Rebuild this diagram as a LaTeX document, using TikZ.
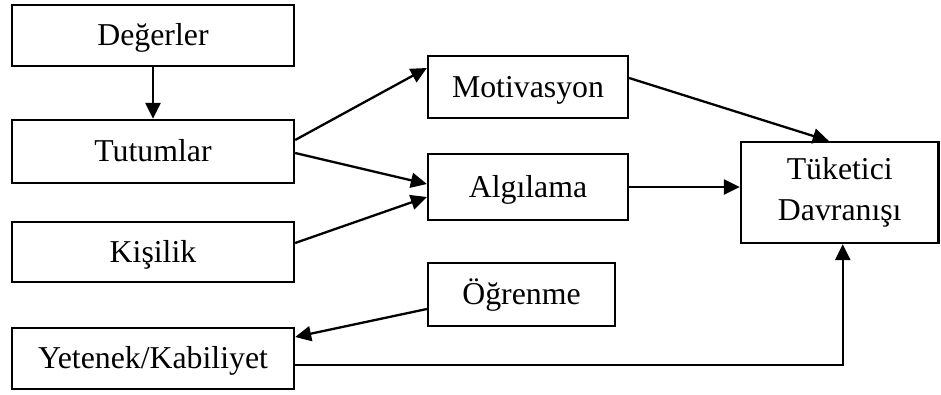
\documentclass[tikz,border=0pt]{standalone}
\usepackage{fontspec}
\setmainfont{Liberation Serif}
\usetikzlibrary{arrows.meta}
\begin{document}
\begin{tikzpicture}[x=1pt,y=-1pt,
  every node/.style={font=\fontsize{31.8}{40.5}\selectfont},
  box/.style={draw, line width=2.3pt, rectangle, inner sep=0pt, text height=24pt, text depth=4pt},
  bigbox/.style={draw, line width=2.3pt, rectangle, inner sep=0pt, align=center},
  link/.style={line width=2.3pt, -{Triangle[length=16pt,width=15pt]}}]
\useasboundingbox (0,0) rectangle (941,394);
% left column
\node[box, minimum width=282pt, minimum height=61pt] (deg) at (153,35.5) {Değerler};
\node[box, minimum width=282pt, minimum height=63pt] (tut) at (153,151.5) {Tutumlar};
\node[box, minimum width=282pt, minimum height=60pt] (kis) at (153,252) {Kişilik};
\node[box, minimum width=282pt, minimum height=61pt] (yet) at (153,358.5) {Yetenek/Kabiliyet};
% middle column
\node[box, minimum width=200pt, minimum height=62pt] (mot) at (528,87) {Motivasyon};
\node[box, minimum width=200pt, minimum height=66pt] (alg) at (528,187) {Algılama};
\node[box, minimum width=187pt, minimum height=63pt] (ogr) at (521.5,294.5) {Öğrenme};
% outcome
\node[bigbox, minimum width=197.5pt, minimum height=101pt] (tuk) at (839.75,192.5) {Tüketici\\Davranışı};
% connectors
\draw[link] (deg.south) -- (tut.north);
\draw[link] ([yshift=11.5pt]tut.east) -- ([yshift=19pt]mot.west);
\draw[link] ([yshift=-1.5pt]tut.east) -- ([yshift=3pt]alg.west);
\draw[link] ([yshift=9pt]kis.east) -- ([yshift=-10pt]alg.west);
\draw[link] ([yshift=9pt]mot.east) -- ([xshift=-11pt]tuk.north);
\draw[link] (alg.east) -- (alg.east -| tuk.west);
\draw[link] ([yshift=-14.5pt]ogr.west) -- ([yshift=21.5pt]yet.east);
\draw[link] ([yshift=-6.5pt]yet.east) -| ([xshift=3pt]tuk.south);
\end{tikzpicture}
\end{document}
